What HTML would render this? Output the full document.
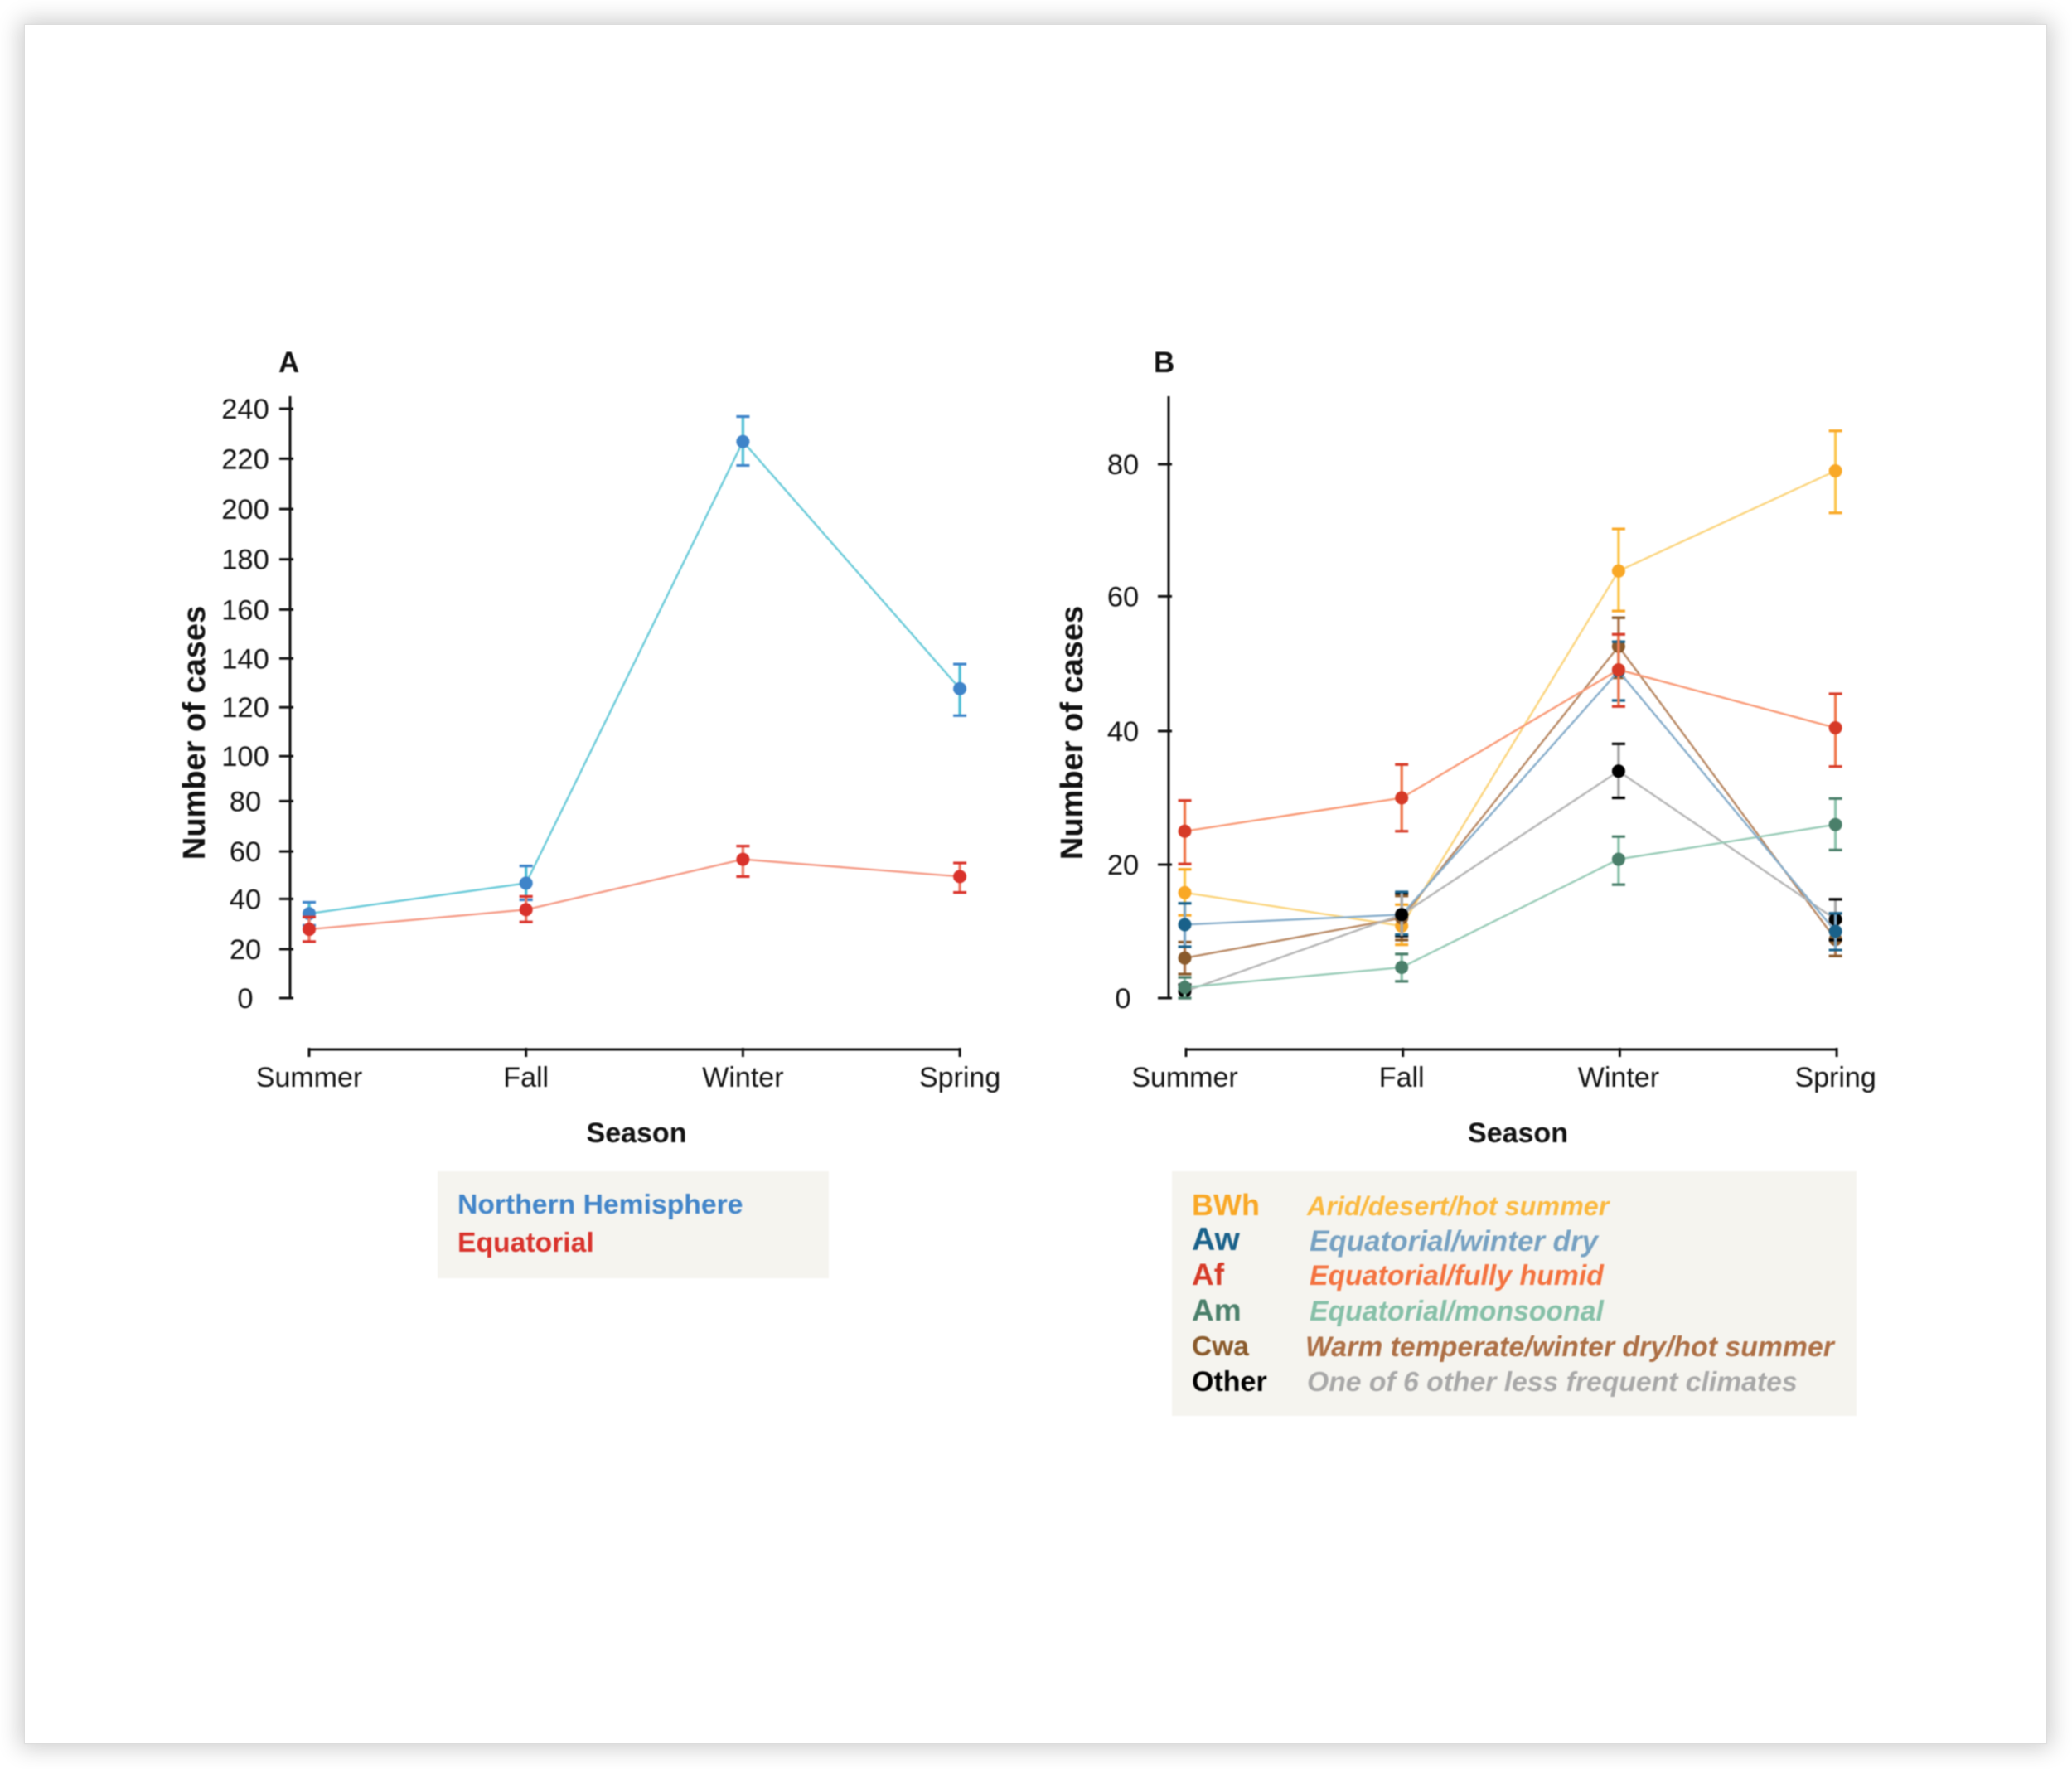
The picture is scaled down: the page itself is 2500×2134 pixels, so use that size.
<!DOCTYPE html>
<html lang="en">
<head>
<meta charset="utf-8">
<title>Number of cases by season</title>
<style>
html,body{margin:0;padding:0;background:#fff;}
#stage{position:relative;width:2500px;height:2134px;overflow:hidden;background:#fff;}
#sheet{position:absolute;left:30px;top:30px;width:2439px;height:2073px;background:#fff;box-shadow:0 0 1px 1px #dcdcdc,0 0 26px 6px rgba(0,0,0,.2);}
svg{position:absolute;left:0;top:0;filter:blur(.8px);}
text{font-family:"Liberation Sans",Arial,sans-serif;fill:#111;}
</style>
</head>
<body>
<div id="stage">
<div id="sheet"></div>
<svg id="chart" width="2500" height="2134" viewBox="0 0 2500 2134" xmlns="http://www.w3.org/2000/svg">
  <rect x="528" y="1413" width="472" height="129" fill="#f5f4ef"/>
  <text x="552" y="1464" font-size="33.7" font-weight="700" style="fill:#4285c9">Northern Hemisphere</text>
  <text x="552" y="1510" font-size="33.7" font-weight="700" style="fill:#d9322b">Equatorial</text>

  <rect x="1414" y="1413" width="826" height="295" fill="#f5f4ef"/>
  <text x="1438" y="1466" font-size="36" font-weight="700" style="fill:#f9a826">BWh</text>
  <text x="1577" y="1466" font-size="32.3" font-weight="700" font-style="italic" style="fill:#fbb93f">Arid/desert/hot summer</text>
  <text x="1438" y="1508" font-size="39" font-weight="700" style="fill:#19618a">Aw</text>
  <text x="1580" y="1509" font-size="35" font-weight="700" font-style="italic" style="fill:#76a1c2">Equatorial/winter dry</text>
  <text x="1438" y="1550" font-size="37" font-weight="700" style="fill:#d63a27">Af</text>
  <text x="1580" y="1550" font-size="33.8" font-weight="700" font-style="italic" style="fill:#f4723f">Equatorial/fully humid</text>
  <text x="1438" y="1593" font-size="37" font-weight="700" style="fill:#4a7f6a">Am</text>
  <text x="1580" y="1593" font-size="33.8" font-weight="700" font-style="italic" style="fill:#86c0a8">Equatorial/monsoonal</text>
  <text x="1438" y="1635" font-size="33.5" font-weight="700" style="fill:#8a5a2b">Cwa</text>
  <text x="1575" y="1636" font-size="33.8" font-weight="700" font-style="italic" style="fill:#ad6f45">Warm temperate/winter dry/hot summer</text>
  <text x="1438" y="1678" font-size="34" font-weight="700" style="fill:#000">Other</text>
  <text x="1577" y="1678" font-size="33.7" font-weight="700" font-style="italic" style="fill:#a8a8a8">One of 6 other less frequent climates</text>
</svg>
</div>
<script>
var seasons = ['Summer', 'Fall', 'Winter', 'Spring'];

var tickLabelsA = ['0', '20', '40', '60', '80', '100', '120', '140', '160', '180', '200', '220', '240'];
var tickValuesA = [0, 19.9, 40.4, 59.7, 80.2, 98.5, 118.4, 138.3, 158.2, 178.7, 199.1, 219.6, 240];
var northValues = [34.4, 46.8, 226.6, 126];
var northLow = [29.6, 40, 216.9, 115];
var northHigh = [39, 53.8, 236.8, 136];
var equatorialValues = [28, 36, 56.5, 49.5];
var equatorialLow = [23, 31, 49.5, 43];
var equatorialHigh = [33, 41.4, 61.9, 55];

var tickLabelsB = ['0', '20', '40', '60', '80'];
var tickValuesB = [0, 20, 40, 60.2, 80];
var bwhValues = [15.8, 10.8, 64, 79];
var bwhLow = [12.4, 8, 58, 72.7];
var bwhHigh = [19.3, 14, 70.3, 85];
var cwaValues = [6, 12, 52.7, 8.8];
var cwaLow = [3.6, 8.7, 48, 6.3];
var cwaHigh = [8.4, 15.3, 57, 11.5];
var otherValues = [1, 12.5, 34, 11.8];
var otherLow = [0, 9.3, 30, 8.7];
var otherHigh = [2, 15.7, 38.1, 14.8];
var amValues = [1.6, 4.6, 20.8, 26];
var amLow = [0, 2.5, 17, 22.2];
var amHigh = [3.1, 6.6, 24.2, 29.9];
var awValues = [11, 12.5, 49, 10];
var awLow = [7.7, 9.5, 44.6, 7.2];
var awHigh = [14.2, 15.9, 53.4, 12.7];
var afValues = [25, 30, 49.2, 40.5];
var afLow = [20.1, 25, 43.7, 34.7];
var afHigh = [29.6, 35, 54.5, 45.6];

var svg = document.getElementById('chart');
var NS = 'http://www.w3.org/2000/svg';

function mk(tag, attrs, parent) {
  var el = document.createElementNS(NS, tag);
  for (var k in attrs) { el.setAttribute(k, attrs[k]); }
  parent.appendChild(el);
  return el;
}

function drawAxes(p) {
  var g = mk('g', {}, svg);
  
  

  var yLine = mk('line', {x1: p.axisX, x2: p.axisX, y1: 478, y2: p.y(0) + 1.5, stroke: '#111', 'stroke-width': 3}, g);
  
  

  p.tickValues.forEach(function (t, i) {
    var tick = mk('line', {x1: p.axisX - 13, x2: p.axisX + 4, y1: p.y(t), y2: p.y(t), stroke: '#111', 'stroke-width': 3}, g);
    
    
    var label = mk('text', {x: p.tickLabelX, y: p.y(t) + 12, 'font-size': 34.5, 'text-anchor': 'middle'}, g);
    
    
    label.textContent = p.tickLabels[i];
  });

  var xLine = mk('line', {x1: p.x(0) - 1 + p.tickShift, x2: p.x(seasons.length - 1) + 1 + p.tickShift, y1: 1266, y2: 1266, stroke: '#111', 'stroke-width': 3}, g);
  
  

  seasons.forEach(function (s, i) {
    var tick = mk('line', {x1: p.x(i) + p.tickShift, x2: p.x(i) + p.tickShift, y1: 1264, y2: 1275, stroke: '#111', 'stroke-width': 3}, g);
    
    
    var label = mk('text', {x: p.x(i), y: 1311, 'font-size': 34, 'text-anchor': 'middle'}, g);
    
    
    label.textContent = s;
  });

  var xTitle = mk('text', {x: p.xTitleX, y: 1378, 'font-size': 34, 'font-weight': 700, 'text-anchor': 'middle'}, g);
  
  
  xTitle.textContent = 'Season';

  var yTitle = mk('text', {x: 0, y: 0, 'font-size': 38, 'font-weight': 700, 'text-anchor': 'middle', transform: 'translate(' + p.yTitleX + ',884) rotate(-90)'}, g);
  
  
  yTitle.textContent = 'Number of cases';

  var letter = mk('text', {x: p.letterX, y: 449, 'font-size': 35, 'font-weight': 700}, g);
  
  
  letter.textContent = p.letter;
}

function drawBar(p, s, i, g) {
  var px = p.x(i);
  var stem = mk('line', {x1: px, x2: px, y1: p.y(s.low[i]), y2: p.y(s.high[i]), stroke: s.stem, 'stroke-width': 3.4}, g);
  
  
}

function drawDot(p, s, i, g) {
  var dot = mk('circle', {cx: p.x(i), cy: p.y(s.values[i]), r: 8, fill: s.color}, g);
  
  
}

function drawSeries(p, s) {
  var g = mk('g', {}, svg);
  
  

  var pts = s.values.map(function (v, i) { return p.x(i) + ',' + p.y(v); }).join(' ');
  var line = mk('polyline', {points: pts, fill: 'none', stroke: s.line, 'stroke-width': 2.4}, g);
  
  

  s.values.forEach(function (v, i) {
    var px = p.x(i);
    drawBar(p, s, i, g);
    [s.low[i], s.high[i]].forEach(function (e) {
      var cap = mk('line', {x1: px - 8, x2: px + 8, y1: p.y(e), y2: p.y(e), stroke: s.color, 'stroke-width': 3.2}, g);
      
      
    });
    drawDot(p, s, i, g);
  });
}

function xAxisA(i) { return 373 + i * 261.7; }
function yAxisA(v) { return 1204 - v * 2.9625; }
function xAxisB(i) { return 1429.5 + i * 261.7; }
function yAxisB(v) { return 1204 - v * 8.05; }

var panelA = {id: 'panel-a', letter: 'A', letterX: 336, axisX: 350, tickLabelX: 296, xTitleX: 768, yTitleX: 247, x: xAxisA, y: yAxisA, tickValues: tickValuesA, tickLabels: tickLabelsA, tickShift: 0};
var panelB = {id: 'panel-b', letter: 'B', letterX: 1392, axisX: 1410, tickLabelX: 1355, xTitleX: 1831.5, yTitleX: 1306, x: xAxisB, y: yAxisB, tickValues: tickValuesB, tickLabels: tickLabelsB, tickShift: 1.5};

var otherSeries = {name: 'other', values: otherValues, low: otherLow, high: otherHigh, color: '#000000', line: '#b5b5b5', stem: '#a8a8a8'};

drawAxes(panelA);
drawSeries(panelA, {name: 'northern-hemisphere', values: northValues, low: northLow, high: northHigh, color: '#3f84c9', line: '#6ccbd9', stem: '#52bfd6'});
drawSeries(panelA, {name: 'equatorial', values: equatorialValues, low: equatorialLow, high: equatorialHigh, color: '#d9322b', line: '#f59c88', stem: '#ee7a66'});

drawAxes(panelB);
drawSeries(panelB, {name: 'bwh', values: bwhValues, low: bwhLow, high: bwhHigh, color: '#f9a826', line: '#fbd57f', stem: '#fcc752'});
drawSeries(panelB, {name: 'cwa', values: cwaValues, low: cwaLow, high: cwaHigh, color: '#8a5a2b', line: '#b98a66', stem: '#b07a52'});
drawSeries(panelB, otherSeries);
drawSeries(panelB, {name: 'am', values: amValues, low: amLow, high: amHigh, color: '#4a7f6a', line: '#9accb8', stem: '#8fc4ae'});
drawSeries(panelB, {name: 'aw', values: awValues, low: awLow, high: awHigh, color: '#19618a', line: '#88aecb', stem: '#7fa9c8'});
drawSeries(panelB, {name: 'af', values: afValues, low: afLow, high: afHigh, color: '#d63a27', line: '#f99a77', stem: '#f07a50'});

var fallOverlay = mk('g', {}, svg);


drawBar(panelB, otherSeries, 1, fallOverlay);
drawDot(panelB, otherSeries, 1, fallOverlay);
</script>
</body>
</html>
